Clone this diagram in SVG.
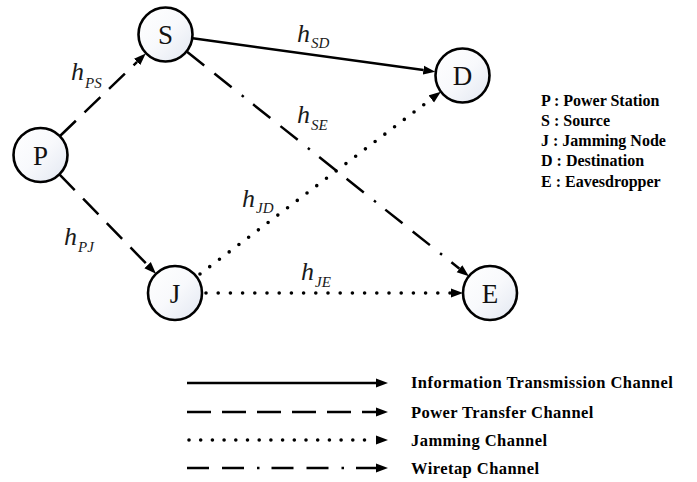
<svg xmlns="http://www.w3.org/2000/svg" width="697" height="482" viewBox="0 0 697 482">
<style>
.node{stroke:#000;stroke-width:2.6;fill:url(#g)}
.nl{font-family:"Liberation Serif",serif;font-size:27px;fill:#111;text-anchor:middle}
.e{fill:none;stroke:#000;stroke-width:2.5}
.dash{stroke-dasharray:22 12}
.dot{stroke-dasharray:0 12.2;stroke-linecap:round;stroke-width:3.6}
.dd{stroke-dasharray:22 13 22 13 2.5 12}
.h{font-family:"Liberation Serif",serif;font-style:italic;font-size:26px;fill:#1a1a1a}
.sub{font-size:15px}
.lg{font-family:"Liberation Serif",serif;font-weight:bold;font-size:16.5px;letter-spacing:0.45px;fill:#000}
.ky{font-family:"Liberation Serif",serif;font-weight:bold;font-size:16px;fill:#000}
</style>
<defs>
<linearGradient id="g" x1="0" y1="0" x2="1" y2="1">
<stop offset="0" stop-color="#ffffff"/>
<stop offset="0.5" stop-color="#f8f9fc"/>
<stop offset="1" stop-color="#e2e7f1"/>
</linearGradient>
<marker id="a" viewBox="0 -5 12 10" refX="0" refY="0" markerWidth="12" markerHeight="10" markerUnits="userSpaceOnUse" orient="auto">
<path d="M0,-4.5 L12,0 L0,4.5 z" fill="#000"/>
</marker>
</defs>

<g id="connectors">
<line id="e-PS" class="e dash" x1="60" y1="136" x2="137.1" y2="61.9" marker-end="url(#a)"/>
<line id="e-PJ" class="e dash" x1="59.4" y1="174.3" x2="147.6" y2="265.1" marker-end="url(#a)"/>
<line id="e-SD" class="e" x1="192.7" y1="38.3" x2="423.4" y2="70.1" marker-end="url(#a)"/>
<line id="e-SE" class="e dd" x1="187" y1="51.7" x2="459.5" y2="268.7" marker-end="url(#a)"/>
<line id="e-JD" class="e dot" x1="200" y1="274" x2="431.3" y2="99" marker-end="url(#a)"/>
<line id="e-JE" class="e dot" x1="206" y1="293" x2="451" y2="293" marker-end="url(#a)"/>
</g>

<g id="labels">
<text class="h" x="71" y="80">h<tspan class="sub" dx="1" dy="8">PS</tspan></text>
<text class="h" x="64" y="245">h<tspan class="sub" dx="1" dy="7">PJ</tspan></text>
<text class="h" x="297" y="42">h<tspan class="sub" dx="1" dy="6">SD</tspan></text>
<text class="h" x="297" y="123">h<tspan class="sub" dx="1" dy="7">SE</tspan></text>
<text class="h" x="242" y="207">h<tspan class="sub" dx="1" dy="6">JD</tspan></text>
<text class="h" x="301" y="280">h<tspan class="sub" dx="1" dy="7">JE</tspan></text>
</g>

<g id="node-P"><circle class="node" cx="40.5" cy="155" r="27"/><text class="nl" x="40.5" y="164.5">P</text></g>
<g id="node-S"><circle class="node" cx="165.5" cy="34.5" r="27"/><text class="nl" x="165.5" y="44">S</text></g>
<g id="node-J"><circle class="node" cx="175" cy="293" r="27"/><text class="nl" x="175" y="302.5">J</text></g>
<g id="node-D"><circle class="node" cx="462.5" cy="75.5" r="27"/><text class="nl" x="462.5" y="85">D</text></g>
<g id="node-E"><circle class="node" cx="490" cy="293" r="27"/><text class="nl" x="490" y="302.5">E</text></g>

<g id="key">
<text class="ky" x="541" y="106">P : Power Station</text>
<text class="ky" x="541" y="126">S : Source</text>
<text class="ky" x="541" y="146">J : Jamming Node</text>
<text class="ky" x="541" y="166">D : Destination</text>
<text class="ky" x="541" y="187">E : Eavesdropper</text>
</g>

<g id="legend">
<line class="e" x1="187" y1="383" x2="376" y2="383" marker-end="url(#a)"/>
<line class="e" x1="187" y1="412" x2="376" y2="412" style="stroke-dasharray:24 11"/>
<line class="e" x1="187" y1="412" x2="376" y2="412" style="stroke-opacity:0" marker-end="url(#a)"/>
<line class="e dot" x1="189" y1="440" x2="376" y2="440" style="stroke-dasharray:0 11.7" marker-end="url(#a)"/>
<line class="e" x1="187" y1="468" x2="376" y2="468" style="stroke-dasharray:22 13 22 13 2.5 12" marker-end="url(#a)"/>
<text class="lg" x="411" y="388">Information Transmission Channel</text>
<text class="lg" x="411" y="418">Power Transfer Channel</text>
<text class="lg" x="411" y="446">Jamming Channel</text>
<text class="lg" x="411" y="474">Wiretap Channel</text>
</g>
</svg>
